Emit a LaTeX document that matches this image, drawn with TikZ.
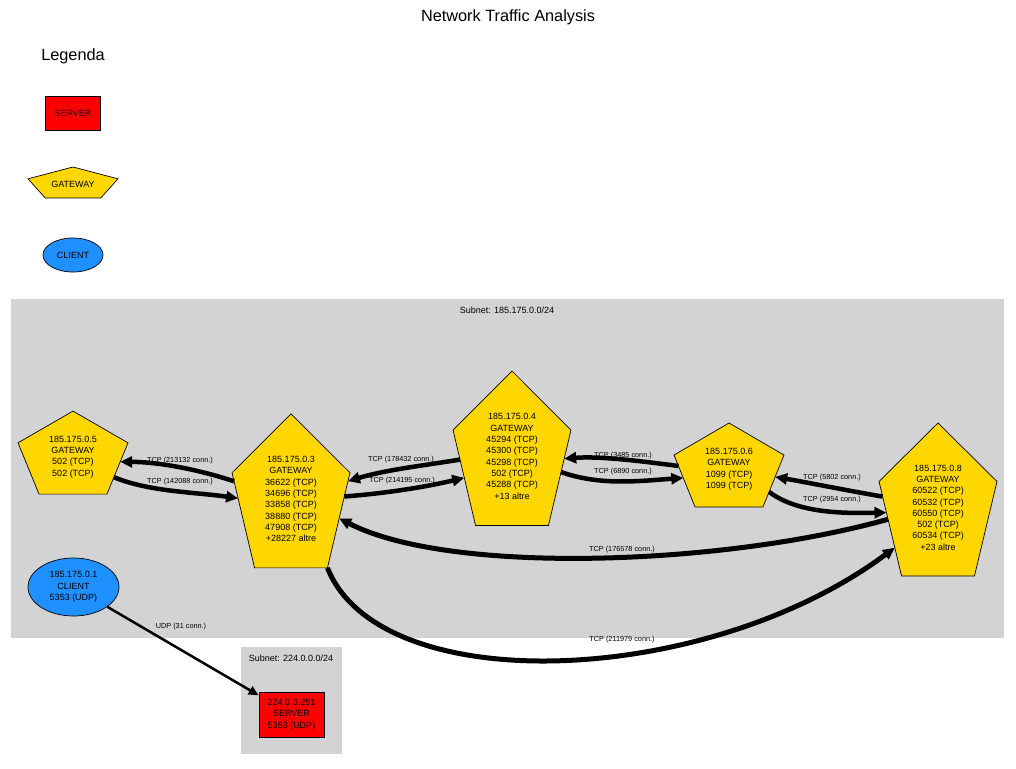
\documentclass[tikz,border=0pt]{standalone}
\usepackage{fontspec}
\setmainfont{Liberation Sans}
\usetikzlibrary{positioning,shapes,arrows.meta,calc}

\definecolor{gwgold}{HTML}{FFD700}
\definecolor{clientblue}{HTML}{1E90FF}
\definecolor{subnetgray}{HTML}{D3D3D3}

% gateway: name, centre, x radius, y radius, text
\newcommand{\gwnode}[5]{%
\path (#2) +(-90:#3 and #4) coordinate (#1-1) (#2) +(-18:#3 and #4) coordinate (#1-2) (#2) +(54:#3 and #4) coordinate (#1-3) (#2) +(126:#3 and #4) coordinate (#1-4) (#2) +(198:#3 and #4) coordinate (#1-5);
\filldraw[gwshape] (#1-1) -- (#1-2) -- (#1-3) -- (#1-4) -- (#1-5) -- cycle;
\node[gwtext] (#1) at (#2) {#5};}

\begin{document}
\begin{tikzpicture}[x=1pt,y=-1pt,every node/.style={font=\fontsize{9}{11.3}\selectfont, align=center},
gwshape/.style={draw, fill=gwgold, line width=.7pt},
gwtext/.style={inner sep=0pt},
server/.style={draw, fill=red, line width=.7pt, inner sep=0pt},
client/.style={draw, ellipse, fill=clientblue, line width=.7pt, inner sep=0pt},
subnet/.style={fill=subnetgray},
conn/.style={line width=4.5pt, -{Triangle[length=12pt,width=11pt]}},
heavy/.style={conn, line width=5pt},
lbl/.style={font=\fontsize{7.3}{8}\selectfont, inner sep=0pt}]
\useasboundingbox (0,0) rectangle (1016,768);

\node (title) at (508,17) {\fontsize{16.3}{18}\selectfont Network Traffic Analysis};

% legend
\node (legenda) at (73,56) {\fontsize{16.3}{18}\selectfont Legenda};
\node[server, minimum width=55pt, minimum height=34pt] (lserver) at (73,113) {SERVER};
\gwnode{lgw}{73,184.1}{47.3}{17.1}{GATEWAY}
\node[client, minimum width=60pt, minimum height=34pt] (lclient) at (73,255) {CLIENT};

% subnets
\fill[subnet] (11,299) rectangle (1004,638);
\node (net185) at (507,310) {Subnet: 185.175.0.0/24};
\fill[subnet] (241,647) rectangle (342,754);
\node (net224) at (291,658) {Subnet: 224.0.0.0/24};

% hosts
\gwnode{g5}{73,457}{57.8}{45.9}{185.175.0.5\\GATEWAY\\502 (TCP)\\502 (TCP)}
\gwnode{g3}{291,499}{62}{85.1}{185.175.0.3\\GATEWAY\\36622 (TCP)\\34696 (TCP)\\33858 (TCP)\\38880 (TCP)\\47908 (TCP)\\+28227 altre}
\gwnode{g4}{512,456.4}{62}{85.4}{185.175.0.4\\GATEWAY\\45294 (TCP)\\45300 (TCP)\\45298 (TCP)\\502 (TCP)\\45288 (TCP)\\+13 altre}
\gwnode{g6}{729,469.4}{57.8}{46.4}{185.175.0.6\\GATEWAY\\1099 (TCP)\\1099 (TCP)}
\gwnode{g8}{938,507.6}{62}{84.6}{185.175.0.8\\GATEWAY\\60522 (TCP)\\60532 (TCP)\\60550 (TCP)\\502 (TCP)\\60534 (TCP)\\+23 altre}
\node[client, minimum width=91pt, minimum height=58pt] (c1) at (73.5,587) {185.175.0.1\\CLIENT\\5353 (UDP)};
\node[server, minimum width=65pt, minimum height=45pt] (s251) at (291.5,714.5) {224.0.0.251\\SERVER\\5353 (UDP)};

% connections
\draw[conn] ($(g3-5)!.09!(g3-4)$) .. controls (200,470) and (160,462) .. ($(g5-2)!.37!(g5-3)$) node[lbl] (l1) at (180,461) {TCP (213132 conn.)};
\draw[conn] ($(g5-2)!.67!(g5-3)$) .. controls (150,492) and (195,492) .. ($(g3-5)!.27!(g3-4)$) node[lbl] (l2) at (180,482) {TCP (142088 conn.)};
\draw[conn] ($(g4-5)!.31!(g4-4)$) .. controls (420,466) and (385,470) .. ($(g3-2)!.09!(g3-3)$) node[lbl] (l3) at (401,460) {TCP (178432 conn.)};
\draw[conn] ($(g3-2)!.25!(g3-3)$) .. controls (390,493) and (430,486) .. ($(g4-5)!.5!(g4-4)$) node[lbl] (l4) at (402,481) {TCP (214195 conn.)};
\draw[conn] ($(g6-5)!.21!(g6-4)$) .. controls (640,461) and (600,456) .. ($(g4-2)!.3!(g4-3)$) node[lbl] (l5) at (623,456) {TCP (3485 conn.)};
\draw[conn] ($(g4-2)!.44!(g4-3)$) .. controls (600,486) and (640,481) .. ($(g6-5)!.44!(g6-4)$) node[lbl] (l6) at (623,472) {TCP (6890 conn.)};
\draw[conn] ($(g8-5)!.16!(g8-4)$) .. controls (850,491) and (810,483) .. ($(g6-2)!.42!(g6-3)$) node[lbl] (l7) at (832,478) {TCP (5802 conn.)};
\draw[conn] ($(g6-2)!.71!(g6-3)$) .. controls (800,515) and (850,513) .. ($(g8-5)!.33!(g8-4)$) node[lbl] (l8) at (832,500) {TCP (2954 conn.)};
\draw[heavy] ($(g8-5)!.4!(g8-4)$) .. controls (720,566) and (450,575) .. ($(g3-2)!.48!(g3-3)$) node[lbl] (l9) at (622,550) {TCP (176578 conn.)};
\draw[heavy] (g3-3) .. controls (380,700) and (706,688) .. ($(g8-5)!.7!(g8-4)$) node[lbl] (l10) at (622,640) {TCP (211979 conn.)};
\draw[line width=2.5pt, -{Triangle[length=10pt,width=9pt]}] (c1) -- (s251) node[lbl] (l11) at (181,627) {UDP (31 conn.)};
\end{tikzpicture}
\end{document}
